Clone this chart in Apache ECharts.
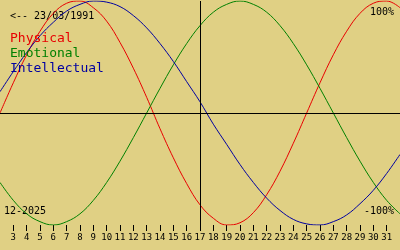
<!DOCTYPE html>
<html>
<head>
<meta charset="utf-8">
<script src="https://cdn.jsdelivr.net/npm/echarts@6/dist/echarts.min.js"></script>
<style>
html,body{margin:0;padding:0;background:#e0d084;}
#chart{width:400px;height:250px;}
</style>
</head>
<body>
<div id="chart"></div>
<script>
// Days of the month shown (x positions 2..32, visible labels 3..31)
const days = [2,3,4,5,6,7,8,9,10,11,12,13,14,15,16,17,18,19,20,21,22,23,24,25,26,27,28,29,30,31,32];
const tickDays = [3,4,5,6,7,8,9,10,11,12,13,14,15,16,17,18,19,20,21,22,23,24,25,26,27,28,29,30,31];
const physical = [0,0.27,0.52,0.73,0.89,0.98,1.00,0.94,0.82,0.63,0.40,0.14,-0.14,-0.40,-0.63,-0.82,-0.94,-1.00,-0.98,-0.89,-0.73,-0.52,-0.27,0,0.27,0.52,0.73,0.89,0.98,1.00,0.94];
const emotional = [-0.62,-0.78,-0.90,-0.97,-1.00,-0.97,-0.90,-0.78,-0.62,-0.43,-0.22,0,0.22,0.43,0.62,0.78,0.90,0.97,1.00,0.97,0.90,0.78,0.62,0.43,0.22,0,-0.22,-0.43,-0.62,-0.78,-0.90];
const intellectual = [0.19,0.37,0.54,0.69,0.81,0.91,0.97,1.00,0.99,0.95,0.87,0.76,0.62,0.46,0.28,0.10,-0.10,-0.28,-0.46,-0.62,-0.76,-0.87,-0.95,-0.99,-1.00,-0.97,-0.91,-0.81,-0.69,-0.54,-0.37];
const seriesNames = ['Physical','Emotional','Intellectual'];
const todayDay = 17;
const birthText = '<-- 23/03/1991';
const monthText = '12-2025';
const topText = '100%';
const bottomText = '-100%';

const mono = 'DejaVu Sans Mono';
const colors = ['#e80000','#008000','#0000a0'];
const pairs = arr => days.map((d,i)=>[d,arr[i]]);

const chart = echarts.init(document.getElementById('chart'), null, {renderer:'canvas'});
chart.setOption({
  animation:false,
  backgroundColor:'#e0d084',
  grid:{left:0,right:0,top:1,bottom:25},
  legend:{
    orient:'vertical', left:5, top:31, padding:0, itemGap:0,
    itemWidth:0, itemHeight:0, icon:'none', selectedMode:false,
    data:seriesNames.map((n,i)=>({name:n,textStyle:{color:colors[i]}})),
    textStyle:{fontFamily:mono,fontSize:13,lineHeight:15}
  },
  xAxis:{
    type:'value', min:2, max:32, interval:1,
    axisLine:{show:false,onZero:false},
    splitLine:{show:false},
    axisTick:{show:true,length:6,lineStyle:{color:'#000'},customValues:tickDays},
    axisLabel:{show:true,margin:8,fontFamily:mono,fontSize:9,color:'#000',customValues:tickDays,
      formatter:v=>(v<3||v>31)?'':String(v)}
  },
  yAxis:{type:'value',min:-1,max:1,show:false},
  graphic:[
    {type:'text',left:10,top:11,style:{text:birthText,font:'10px '+mono,fill:'#000'}},
    {type:'text',left:4,top:206,style:{text:monthText,font:'10px '+mono,fill:'#000'}},
    {type:'text',right:6,top:7,style:{text:topText,font:'10px '+mono,fill:'#000'}},
    {type:'text',right:6,top:206,style:{text:bottomText,font:'10px '+mono,fill:'#000'}}
  ],
  series:[
    {name:seriesNames[0],type:'line',data:pairs(physical),smooth:0.4,showSymbol:false,
      lineStyle:{color:colors[0],width:1},itemStyle:{color:colors[0]},
      markLine:{silent:true,symbol:'none',label:{show:false},
        lineStyle:{color:'#000',width:1,type:'solid'},
        data:[{yAxis:0},{xAxis:todayDay}]}},
    {name:seriesNames[1],type:'line',data:pairs(emotional),smooth:0.4,showSymbol:false,
      lineStyle:{color:colors[1],width:1},itemStyle:{color:colors[1]}},
    {name:seriesNames[2],type:'line',data:pairs(intellectual),smooth:0.4,showSymbol:false,
      lineStyle:{color:colors[2],width:1},itemStyle:{color:colors[2]}}
  ]
});
</script>
</body>
</html>
